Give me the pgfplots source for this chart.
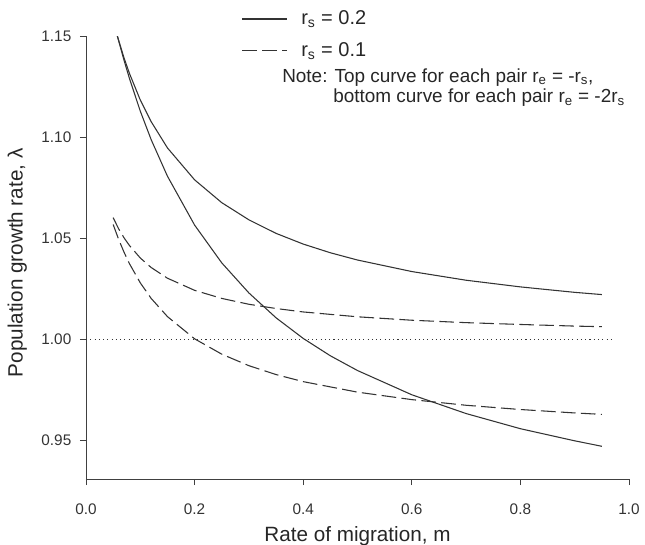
\documentclass[border=0pt]{standalone}
\usepackage{fontspec}
\setmainfont{Liberation Sans}
\usepackage{pgfplots}
\pgfplotsset{compat=1.18}

\begin{document}
\begin{tikzpicture}
% page frame: 645 x 544 px at 0.75pt per px
\useasboundingbox (-64.5pt,-48.75pt) rectangle (419.25pt,359.25pt);
\begin{axis}[
  at={(0,0)}, anchor=south west,
  scale only axis,
  width=407.25pt, height=332.25pt,
  xmin=0, xmax=1, ymin=0.9307, ymax=1.15,
  axis x line*=bottom, axis y line*=left,
  axis line style={black!75, line width=0.7pt},
  tick align=outside,
  major tick length=4.5pt,
  tick style={black!75, line width=0.7pt},
  xtick={0,0.2,0.4,0.6,0.8,1},
  ytick={0.95,1,1.05,1.1,1.15},
  /pgf/number format/assume math mode=true,
  xticklabel style={/pgf/number format/.cd, fixed, fixed zerofill, precision=1},
  yticklabel style={/pgf/number format/.cd, fixed, fixed zerofill, precision=2},
  tick label style={font=\fontsize{11.5}{13}\selectfont, text=black!80},
  xticklabel shift=10.5pt,
  yticklabel shift=3pt,
  xlabel={Rate of migration, m},
  ylabel={Population growth rate, λ},
  label style={font=\fontsize{15.5}{18}\selectfont, text=black!85},
  xlabel style={yshift=-2pt},
  ylabel style={yshift=4pt, xshift=-4pt},
  legend style={draw=none, fill=none, inner sep=0pt,
    at={(axis description cs:0.286,1.063)}, anchor=north west,
    font=\fontsize{15}{17}\selectfont, text=black!85,
    row sep=7.5pt, nodes={inner sep=2pt}},
  legend cell align=left,
  legend image code/.code={\draw[#1] (0pt,0pt) -- (34pt,0pt);},
  every axis plot/.append style={black!80, line width=0.8pt},
]

% r_s = 0.2, r_e = -r_s
\addplot[solid] coordinates {
  (0.0577,1.1500) (0.07,1.1392) (0.08,1.1315) (0.10,1.1183) (0.12,1.1076)
  (0.15,1.0946) (0.20,1.0788) (0.25,1.0675) (0.30,1.0590) (0.35,1.0523)
  (0.40,1.0470) (0.45,1.0427) (0.50,1.0391) (0.60,1.0334) (0.70,1.0291)
  (0.80,1.0258) (0.90,1.0231) (0.95,1.0220)};
\addlegendentry{\hspace{8pt}r\textsubscript{s} = 0.2}

% r_s = 0.1, r_e = -r_s
\addplot[dash pattern=on 11pt off 4pt] coordinates {
  (0.05,1.0601) (0.06,1.0546) (0.07,1.0501) (0.08,1.0463) (0.10,1.0401)
  (0.12,1.0354) (0.15,1.0301) (0.20,1.0241) (0.25,1.0201) (0.30,1.0172)
  (0.35,1.0151) (0.40,1.0134) (0.50,1.0110) (0.60,1.0093) (0.70,1.0081)
  (0.80,1.0072) (0.90,1.0064) (0.95,1.0061)};
\addlegendentry{\hspace{8pt}r\textsubscript{s} = 0.1}

% r_s = 0.2, r_e = -2 r_s
\addplot[solid, forget plot] coordinates {
  (0.0577,1.1500) (0.07,1.1380) (0.08,1.1290) (0.10,1.1128) (0.12,1.0987)
  (0.15,1.0806) (0.20,1.0564) (0.25,1.0377) (0.30,1.0228) (0.35,1.0105)
  (0.40,1.0003) (0.45,0.9917) (0.50,0.9844) (0.60,0.9724) (0.70,0.9631)
  (0.80,0.9556) (0.90,0.9496) (0.95,0.9469)};

% r_s = 0.1, r_e = -2 r_s
\addplot[dash pattern=on 11pt off 4pt, forget plot] coordinates {
  (0.05,1.0567) (0.06,1.0494) (0.07,1.0430) (0.08,1.0373) (0.10,1.0278)
  (0.12,1.0201) (0.15,1.0111) (0.20,1.0001) (0.25,0.9925) (0.30,0.9868)
  (0.35,0.9824) (0.40,0.9789) (0.50,0.9737) (0.60,0.9700) (0.70,0.9672)
  (0.80,0.9651) (0.90,0.9634) (0.95,0.9627)};

% lambda = 1
\addplot[dash pattern=on 0.8pt off 2.4pt, line width=0.7pt, forget plot]
  coordinates {(0,1) (0.974,1)};

\node[anchor=base west, font=\fontsize{14.2}{17}\selectfont, text=black!85, inner sep=0pt]
  at (axis description cs:0.361,0.896)
  {Note: Top curve for each pair r\textsubscript{e} = -r\textsubscript{s},};
\node[anchor=base west, font=\fontsize{14.2}{17}\selectfont, text=black!85, inner sep=0pt]
  at (axis description cs:0.455,0.849)
  {bottom curve for each pair r\textsubscript{e} = -2r\textsubscript{s}};
\end{axis}
\end{tikzpicture}
\end{document}
